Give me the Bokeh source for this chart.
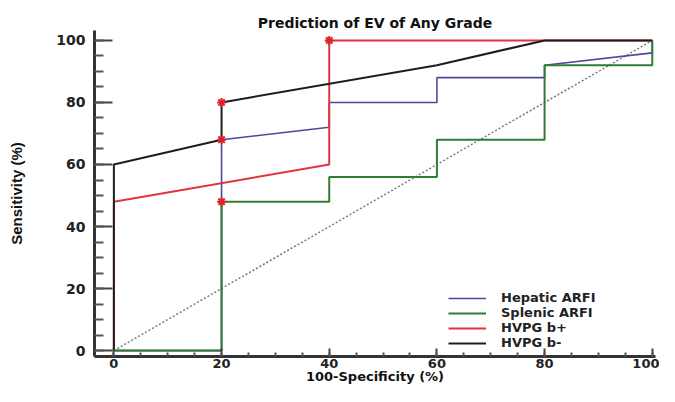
from bokeh.plotting import figure
from bokeh.models import Range1d, SingleIntervalTicker, Legend, LegendItem
from bokeh.embed import file_html
from bokeh.resources import INLINE

# ---- data ----
hep_x = [0, 20, 20, 40, 40, 60, 60, 80, 80, 100, 100]
hep_y = [0, 0, 68, 72, 80, 80, 88, 88, 92, 96, 100]

spl_x = [0, 20, 20, 40, 40, 60, 60, 80, 80, 100, 100]
spl_y = [0, 0, 48, 48, 56, 56, 68, 68, 92, 92, 100]

bplus_x = [0, 0, 40, 40, 100]
bplus_y = [0, 48, 60, 100, 100]

bminus_x = [0, 0, 20, 20, 60, 80, 100]
bminus_y = [0, 60, 68, 80, 92, 100, 100]

crit_x = [20, 20, 20, 40]
crit_y = [48, 68, 80, 100]

diag_x = [0, 100]
diag_y = [0, 100]

series_names = ["Hepatic ARFI", "Splenic ARFI", "HVPG b+", "HVPG b-"]
colors = ["#4a4a9c", "#2f7d32", "#e0353d", "#1e1e1e"]

TF = "DejaVu Sans"

p = figure(width=659, height=386, output_backend="svg", toolbar_location=None,
           x_range=Range1d(-3.6, 100.6), y_range=Range1d(-1.9, 103.2),
           min_border_left=94, min_border_right=4, min_border_top=30, min_border_bottom=0)

p.title.text = "Prediction of EV of Any Grade"
p.title.align = "center"
p.title.text_font = TF
p.title.text_font_size = "14px"
p.title.text_font_style = "bold"
p.title.text_color = "#111111"
p.title.offset = 0
p.title.standoff = 0

p.outline_line_color = None
p.xgrid.visible = False
p.ygrid.visible = False
p.background_fill_color = "white"
p.border_fill_color = "white"

p.xaxis.ticker = SingleIntervalTicker(interval=20, num_minor_ticks=4)
p.yaxis.ticker = SingleIntervalTicker(interval=20, num_minor_ticks=4)

for ax in (p.xaxis[0], p.yaxis[0]):
    ax.axis_line_width = 3
    ax.axis_line_color = "#333333"
    ax.major_tick_line_width = 2
    ax.minor_tick_line_width = 2
    ax.major_tick_line_color = "#444444"
    ax.minor_tick_line_color = "#555555"
    ax.major_tick_out = 0
    ax.minor_tick_out = 0
    ax.major_label_text_font = TF
    ax.major_label_text_font_style = "bold"
    ax.major_label_text_font_size = "14px"
    ax.major_label_text_color = "#222222"
    ax.axis_label_text_font_style = "bold"
    ax.axis_label_text_color = "#111111"

p.yaxis.major_tick_in = 18
p.yaxis.minor_tick_in = 9
p.xaxis.major_tick_in = 8
p.xaxis.minor_tick_in = 4

p.yaxis.major_label_standoff = 9
p.xaxis.major_label_standoff = 2
p.xaxis.major_label_text_font_size = "13px"

p.xaxis.axis_label = "100-Specificity (%)"
p.xaxis.axis_label_text_font = TF
p.xaxis.axis_label_text_font_size = "13px"
p.xaxis.axis_label_standoff = -2

p.yaxis.axis_label = "Sensitivity (%)"
p.yaxis.axis_label_text_font = "Liberation Sans"
p.yaxis.axis_label_text_font_size = "15px"
p.yaxis.axis_label_standoff = 28

# diagonal reference
p.line(diag_x, diag_y, line_color="#7a7a7a", line_width=1.5, line_dash="2 2")

r_hep = p.line(hep_x, hep_y, line_color=colors[0], line_width=1.6)
r_bp = p.line(bplus_x, bplus_y, line_color=colors[2], line_width=2)
r_spl = p.line(spl_x, spl_y, line_color=colors[1], line_width=2)
r_bm = p.line(bminus_x, bminus_y, line_color=colors[3], line_width=2)

p.scatter(crit_x, crit_y, marker="asterisk", size=9, line_color="#e0202a", line_width=2)

legend = Legend(items=[
    LegendItem(label=series_names[0], renderers=[r_hep]),
    LegendItem(label=series_names[1], renderers=[r_spl]),
    LegendItem(label=series_names[2], renderers=[r_bp]),
    LegendItem(label=series_names[3], renderers=[r_bm]),
], location=(354, 6))
legend.border_line_color = None
legend.background_fill_alpha = 0
legend.padding = 0
legend.margin = 0
legend.spacing = 0
legend.glyph_width = 38
legend.glyph_height = 12
legend.label_height = 12
legend.label_standoff = 15
legend.label_text_font = TF
legend.label_text_font_style = "bold"
legend.label_text_font_size = "13px"
legend.label_text_color = "#222222"
p.add_layout(legend)

open("out.html", "w").write(file_html(p, INLINE))
